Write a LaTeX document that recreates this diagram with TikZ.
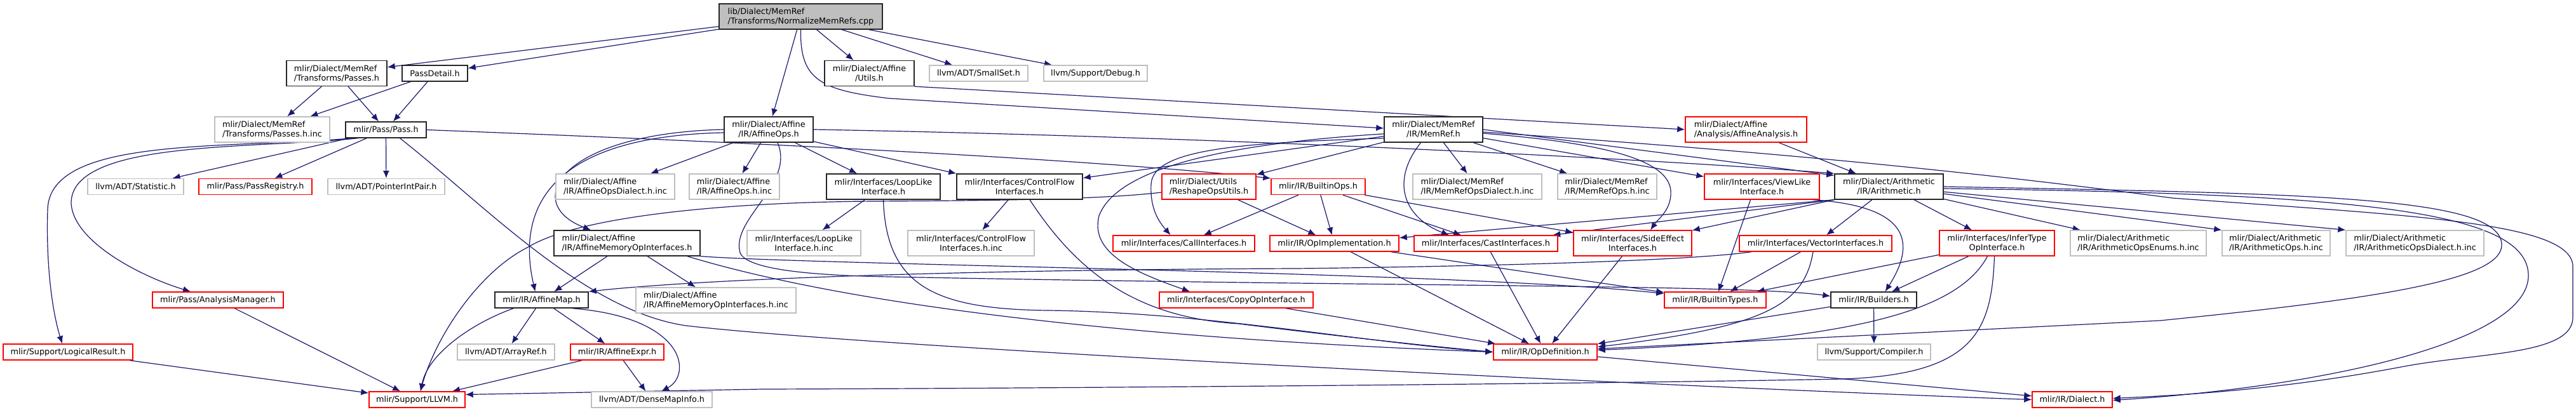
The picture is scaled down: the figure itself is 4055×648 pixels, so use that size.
\documentclass[tikz,border=0pt]{standalone}
\usepackage{fontspec}
\setmainfont{DejaVu Sans}
\usepackage{tikz}
\usetikzlibrary{arrows.meta, backgrounds}
\definecolor{midnight}{HTML}{191970}
\definecolor{grey75}{HTML}{BFBFBF}

\begin{document}
\begin{tikzpicture}[
    x=1pt, y=1pt,
    box/.style={draw, fill=white, line width=1.4pt, inner sep=0pt, align=center,
      font=\fontsize{12.8}{15}\selectfont},
    oneline/.style={minimum height=25pt},
    twoline/.style={minimum height=40pt},
    expanded/.style={box, draw=black!85},
    truncated/.style={box, draw=red},
    external/.style={box, draw=grey75},
    dep/.style={draw=midnight, line width=1.2pt, -{Latex[length=12pt, width=10pt]}}
  ]
  \useasboundingbox (0,0) rectangle (4055,-648);

  % Row 1
  \node[expanded, twoline, fill=grey75, align=left, minimum width=257pt] (root) at (1260.5,-26) {lib/Dialect/MemRef\\/Transforms/NormalizeMemRefs.cpp};

  % Row 2
  \node[expanded, twoline, align=left, minimum width=158pt] (passes) at (530,-115.5) {mlir/Dialect/MemRef\\/Transforms/Passes.h};
  \node[expanded, oneline, minimum width=103pt] (passdetail) at (684.5,-115.5) {PassDetail.h};
  \node[expanded, twoline, minimum width=141pt] (affutils) at (1368.5,-115.5) {mlir/Dialect/Affine\\/Utils.h};
  \node[external, oneline, minimum width=155pt] (smallset) at (1540.5,-115.5) {llvm/ADT/SmallSet.h};
  \node[external, oneline, minimum width=163pt] (debug) at (1724.5,-115.5) {llvm/Support/Debug.h};

  % Row 3
  \node[external, twoline, align=left, minimum width=181pt] (passesinc) at (428.5,-204) {mlir/Dialect/MemRef\\/Transforms/Passes.h.inc};
  \node[expanded, oneline, minimum width=127pt] (pass) at (607.5,-204.5) {mlir/Pass/Pass.h};
  \node[expanded, twoline, minimum width=140pt] (affops) at (1210,-204) {mlir/Dialect/Affine\\/IR/AffineOps.h};
  \node[expanded, twoline, minimum width=155pt] (memref) at (2256.5,-204) {mlir/Dialect/MemRef\\/IR/MemRef.h};
  \node[truncated, twoline, align=left, minimum width=191pt] (affanalysis) at (2748.5,-204) {mlir/Dialect/Affine\\/Analysis/AffineAnalysis.h};

  % Row 4
  \node[external, oneline, minimum width=151pt] (statistic) at (213.5,-294) {llvm/ADT/Statistic.h};
  \node[truncated, oneline, minimum width=178pt] (passreg) at (402,-294) {mlir/Pass/PassRegistry.h};
  \node[external, oneline, minimum width=184pt] (ptrintpair) at (608,-294) {llvm/ADT/PointerIntPair.h};
  \node[external, twoline, align=left, minimum width=187pt] (affopsdialinc) at (968.5,-294) {mlir/Dialect/Affine\\/IR/AffineOpsDialect.h.inc};
  \node[external, twoline, align=left, minimum width=142pt] (affopsinc) at (1156,-294) {mlir/Dialect/Affine\\/IR/AffineOps.h.inc};
  \node[expanded, twoline, minimum width=179pt] (looplike) at (1390.5,-294) {mlir/Interfaces/LoopLike\\Interface.h};
  \node[expanded, twoline, minimum width=198pt] (cflow) at (1605,-294) {mlir/Interfaces/ControlFlow\\Interfaces.h};
  \node[truncated, twoline, align=left, minimum width=148pt] (reshape) at (1903,-294) {mlir/Dialect/Utils\\/ReshapeOpsUtils.h};
  \node[truncated, oneline, minimum width=148pt] (builtinops) at (2075,-294) {mlir/IR/BuiltinOps.h};
  \node[external, twoline, align=left, minimum width=203pt] (memrefdialinc) at (2325.5,-294) {mlir/Dialect/MemRef\\/IR/MemRefOpsDialect.h.inc};
  \node[external, twoline, align=left, minimum width=156pt] (memrefopsinc) at (2530,-294) {mlir/Dialect/MemRef\\/IR/MemRefOps.h.inc};
  \node[truncated, twoline, minimum width=181pt] (viewlike) at (2773.5,-294) {mlir/Interfaces/ViewLike\\Interface.h};
  \node[expanded, twoline, minimum width=171pt] (arith) at (2973.5,-294) {mlir/Dialect/Arithmetic\\/IR/Arithmetic.h};

  % Row 5
  \node[expanded, twoline, align=left, minimum width=230pt] (affmemop) at (987,-383) {mlir/Dialect/Affine\\/IR/AffineMemoryOpInterfaces.h};
  \node[external, twoline, minimum width=179pt] (looplikeinc) at (1265.5,-383) {mlir/Interfaces/LoopLike\\Interface.h.inc};
  \node[external, twoline, minimum width=199pt] (cflowinc) at (1528.5,-383) {mlir/Interfaces/ControlFlow\\Interfaces.h.inc};
  \node[truncated, oneline, minimum width=223pt] (callif) at (1863.5,-383.5) {mlir/Interfaces/CallInterfaces.h};
  \node[truncated, oneline, minimum width=203pt] (opimpl) at (2100.5,-383.5) {mlir/IR/OpImplementation.h};
  \node[truncated, oneline, minimum width=226pt] (castif) at (2339,-383.5) {mlir/Interfaces/CastInterfaces.h};
  \node[truncated, twoline, minimum width=186pt] (sideeffect) at (2570,-383) {mlir/Interfaces/SideEffect\\Interfaces.h};
  \node[truncated, oneline, minimum width=240pt] (vectorif) at (2858,-383.5) {mlir/Interfaces/VectorInterfaces.h};
  \node[truncated, twoline, minimum width=181pt] (infertype) at (3143.5,-383) {mlir/Interfaces/InferType\\OpInterface.h};
  \node[external, twoline, align=left, minimum width=214pt] (arithenums) at (3366,-383) {mlir/Dialect/Arithmetic\\/IR/ArithmeticOpsEnums.h.inc};
  \node[external, twoline, align=left, minimum width=170pt] (arithopsinc) at (3583,-383) {mlir/Dialect/Arithmetic\\/IR/ArithmeticOps.h.inc};
  \node[external, twoline, align=left, minimum width=217pt] (arithdialinc) at (3801.5,-383) {mlir/Dialect/Arithmetic\\/IR/ArithmeticOpsDialect.h.inc};

  % Row 6
  \node[truncated, oneline, minimum width=206pt] (analysismgr) at (343,-472.5) {mlir/Pass/AnalysisManager.h};
  \node[expanded, oneline, minimum width=147pt] (affmap) at (852.5,-472.5) {mlir/IR/AffineMap.h};
  \node[external, twoline, align=left, minimum width=252pt] (affmemopinc) at (1127,-473) {mlir/Dialect/Affine\\/IR/AffineMemoryOpInterfaces.h.inc};
  \node[truncated, oneline, minimum width=242pt] (copyop) at (1946,-472.5) {mlir/Interfaces/CopyOpInterface.h};
  \node[truncated, oneline, minimum width=160pt] (builtintypes) at (2700,-472.5) {mlir/IR/BuiltinTypes.h};
  \node[expanded, oneline, minimum width=135pt] (builders) at (2949.5,-472.5) {mlir/IR/Builders.h};

  % Row 7
  \node[truncated, oneline, minimum width=204pt] (logical) at (107,-554.5) {mlir/Support/LogicalResult.h};
  \node[external, oneline, minimum width=153pt] (arrayref) at (796.5,-554.5) {llvm/ADT/ArrayRef.h};
  \node[truncated, oneline, minimum width=147pt] (affexpr) at (971.5,-554.5) {mlir/IR/AffineExpr.h};
  \node[truncated, oneline, minimum width=163pt] (opdef) at (2432.5,-554.5) {mlir/IR/OpDefinition.h};
  \node[external, oneline, minimum width=178pt] (compiler) at (2950,-554.5) {llvm/Support/Compiler.h};

  % Row 8
  \node[truncated, oneline, minimum width=151pt] (llvmh) at (656.5,-629.5) {mlir/Support/LLVM.h};
  \node[external, oneline, minimum width=190pt] (densemap) at (1026,-629.5) {llvm/ADT/DenseMapInfo.h};
  \node[truncated, oneline, minimum width=126pt] (dialect) at (3262,-629.5) {mlir/IR/Dialect.h};

  \begin{scope}[on background layer]
  % Edges from the source file
  \draw[dep] (root) -- (passes);
  \draw[dep] (root) -- (passdetail);
  \draw[dep] (root) -- (affops);
  \draw[dep] (root) -- (affutils);
  \draw[dep] (root) -- (smallset);
  \draw[dep] (root) -- (debug);
  \draw[dep] (root.south) .. controls (1259,-125) and (1290,-142) .. (1400,-155) -- ([yshift=2pt]memref.west);

  % Pass headers
  \draw[dep] (passes) -- (passesinc);
  \draw[dep] (passes) -- (pass);
  \draw[dep] (passdetail) -- (passesinc);
  \draw[dep] (passdetail) -- (pass);
  \draw[dep] (pass) -- (statistic);
  \draw[dep] (pass) -- (passreg);
  \draw[dep] (pass) -- (ptrintpair);
  \draw[dep] ([xshift=-44pt]pass.south) .. controls (400,-235) and (112,-220) .. (112,-320)
    .. controls (115,-380) and (220,-435) .. ([xshift=-43pt]analysismgr.north);
  \draw[dep] ([xshift=-52pt]pass.south) .. controls (350,-235) and (78,-215) .. (75,-330)
    .. controls (72,-430) and (85,-500) .. ([xshift=-9pt]logical.north);
  \draw[dep] (pass.east) .. controls (1200,-225) and (1700,-250) .. (builtinops.north west);
  \draw[dep] ([xshift=22pt]pass.south) .. controls (760,-320) and (920,-490) .. (1080,-513)
    .. controls (1400,-550) and (2700,-612) .. (dialect.west);
  \draw[dep] (analysismgr) -- (llvmh);
  \draw[dep] (logical) -- (llvmh);

  % Affine dialect
  \draw[dep] (affutils.south east) -- (affanalysis.west);
  \draw[dep] (affanalysis) -- (arith);
  \draw[dep] (affops) -- (affopsdialinc);
  \draw[dep] (affops) -- (affopsinc);
  \draw[dep] (affops) -- (looplike);
  \draw[dep] (affops.-15) -- (cflow.north west);
  \draw[dep] (affops.east) .. controls (1900,-215) and (2600,-250) .. (arith.north west);
  \draw[dep] (affops.west) .. controls (880,-210) and (820,-320) .. ([xshift=-57pt]affmemop.north);
  \draw[dep] ([yshift=-5pt]affops.west) .. controls (850,-215) and (815,-340) .. ([xshift=-10pt]affmap.north);
  \draw[dep] ([xshift=14pt]affops.south) .. controls (1252,-290) and (1150,-345) .. (1165,-398)
    .. controls (1175,-425) and (1280,-434) .. (1400,-436)
    .. controls (2200,-452) and (2750,-448) .. ([yshift=6pt]builders.west);
  \draw[dep] (affmemop) -- (affmap);
  \draw[dep] (affmemop) -- (affmemopinc);
  \draw[dep] (affmemop.south east) .. controls (1300,-418) and (2300,-428) .. ([yshift=10pt]builtintypes.west);
  \draw[dep] ([xshift=95pt]affmemop.south) .. controls (1300,-470) and (1700,-530) .. (opdef.west);
  \draw[dep] (affmap) -- (arrayref);
  \draw[dep] (affmap) -- (affexpr);
  \draw[dep] ([xshift=48pt]affmap.south) .. controls (1080,-500) and (1090,-590) .. ([xshift=15pt]densemap.north);
  \draw[dep] ([xshift=-44pt]affmap.south) .. controls (740,-510) and (672,-560) .. ([xshift=6pt]llvmh.north);
  \draw[dep] (affexpr) -- (llvmh);
  \draw[dep] (affexpr) -- (densemap);

  % Interface headers
  \draw[dep] (looplike) -- (looplikeinc);
  \draw[dep] (looplike.south) .. controls (1395,-450) and (1470,-487) .. (1650,-489)
    .. controls (1900,-492) and (2150,-540) .. (opdef.west);
  \draw[dep] (cflow) -- (cflowinc);
  \draw[dep] ([xshift=16pt]cflow.south) .. controls (1690,-420) and (1780,-500) .. (1950,-510)
    .. controls (2150,-535) and (2280,-548) .. (opdef.west);
  \draw[dep] (reshape) -- (opimpl);
  \draw[dep] ([yshift=-9pt]reshape.west) .. controls (1720,-316) and (1500,-316) .. (1380,-317)
    .. controls (1150,-318) and (910,-340) .. (830,-390)
    .. controls (760,-425) and (690,-520) .. ([xshift=5pt]llvmh.north);

  % MemRef dialect
  \draw[dep] (memref) -- (cflow);
  \draw[dep] (memref) -- (reshape);
  \draw[dep] (memref) -- (memrefdialinc);
  \draw[dep] (memref) -- (memrefopsinc);
  \draw[dep] (memref) -- (viewlike);
  \draw[dep] (memref.east) -- ([yshift=-3pt]arith.north west);
  \draw[dep] (memref.190) .. controls (1950,-225) and (1815,-235) .. (1812,-290)
    .. controls (1810,-330) and (1825,-350) .. ([xshift=-21pt]callif.north);
  \draw[dep] (memref.185) .. controls (1950,-225) and (1760,-260) .. (1730,-340)
    .. controls (1715,-400) and (1790,-430) .. ([xshift=-73pt]copyop.north);
  \draw[dep] ([xshift=-20pt]memref.south) .. controls (2185,-290) and (2215,-345) .. ([xshift=-58pt]castif.north);
  \draw[dep] ([yshift=-6pt]memref.east) .. controls (2520,-225) and (2625,-250) .. (2630,-300)
    .. controls (2632,-330) and (2610,-345) .. ([xshift=28pt]sideeffect.north);
  \draw[dep] ([yshift=-4pt]memref.east) .. controls (2800,-240) and (3100,-270) .. (3420,-312)
    .. controls (3800,-340) and (4050,-350) .. (4050,-420) -- (4050,-500)
    .. controls (4050,-560) and (3900,-555) .. (3780,-578)
    .. controls (3600,-612) and (3450,-622) .. ([yshift=2pt]dialect.east);

  % Arithmetic dialect
  \draw[dep] (arith) -- (arithenums);
  \draw[dep] (arith) -- (arithopsinc.north west);
  \draw[dep] (arith) -- (arithdialinc.north west);
  \draw[dep] (arith) -- (vectorif);
  \draw[dep] (arith) -- (infertype);
  \draw[dep] (arith.south west) -- (opimpl);
  \draw[dep] (arith.south west) -- (castif);
  \draw[dep] (arith.south west) -- (sideeffect);
  \draw[dep] (arith.east) .. controls (3650,-305) and (3935,-310) .. (3938,-385)
    .. controls (3940,-440) and (3750,-470) .. (3400,-505) -- ([yshift=5pt]opdef.east);
  \draw[dep] ([yshift=-3pt]arith.east) .. controls (3700,-305) and (3978,-330) .. (3980,-433)
    .. controls (3982,-540) and (3650,-610) .. ([yshift=-1pt]dialect.east);

  % Remaining interfaces
  \draw[dep] ([xshift=-18pt]viewlike.south) -- ([xshift=5pt]builtintypes.north);
  \draw[dep] ([xshift=80pt]viewlike.south) .. controls (3010,-325) and (3015,-385) .. ([xshift=18pt]builders.north);
  \draw[dep] (vectorif) -- (builtintypes);
  \draw[dep] ([xshift=-4pt]vectorif.south) .. controls (2840,-480) and (2780,-515) .. ([yshift=8pt]opdef.east);
  \draw[dep] ([xshift=20pt]vectorif.south west) .. controls (2650,-412) and (2300,-420) .. (2040,-423)
    .. controls (1500,-425) and (1100,-440) .. (affmap.north east);
  \draw[dep] (infertype) -- (builtintypes);
  \draw[dep] (infertype) -- (builders);
  \draw[dep] ([xshift=-15pt]infertype.south) .. controls (3080,-495) and (2900,-535) .. ([yshift=3pt]opdef.east);
  \draw[dep] ([xshift=-4pt]infertype.south) .. controls (3135,-520) and (3110,-590) .. (2900,-597)
    .. controls (2500,-605) and (1600,-612) .. (1200,-613) -- ([yshift=8pt]llvmh.east);
  \draw[dep] (builders) -- (compiler);
  \draw[dep] (builders) -- (opdef);
  \draw[dep] (builtinops) -- (callif);
  \draw[dep] (builtinops) -- (opimpl);
  \draw[dep] (builtinops) -- (castif);
  \draw[dep] (builtinops) -- (sideeffect);
  \draw[dep] (opimpl) -- (builtintypes);
  \draw[dep] (opimpl) -- (opdef);
  \draw[dep] (castif) -- (opdef);
  \draw[dep] (sideeffect) -- (opdef);
  \draw[dep] (copyop) -- (opdef);
  \draw[dep] (opdef) -- (dialect);
  \end{scope}

\end{tikzpicture}
\end{document}
